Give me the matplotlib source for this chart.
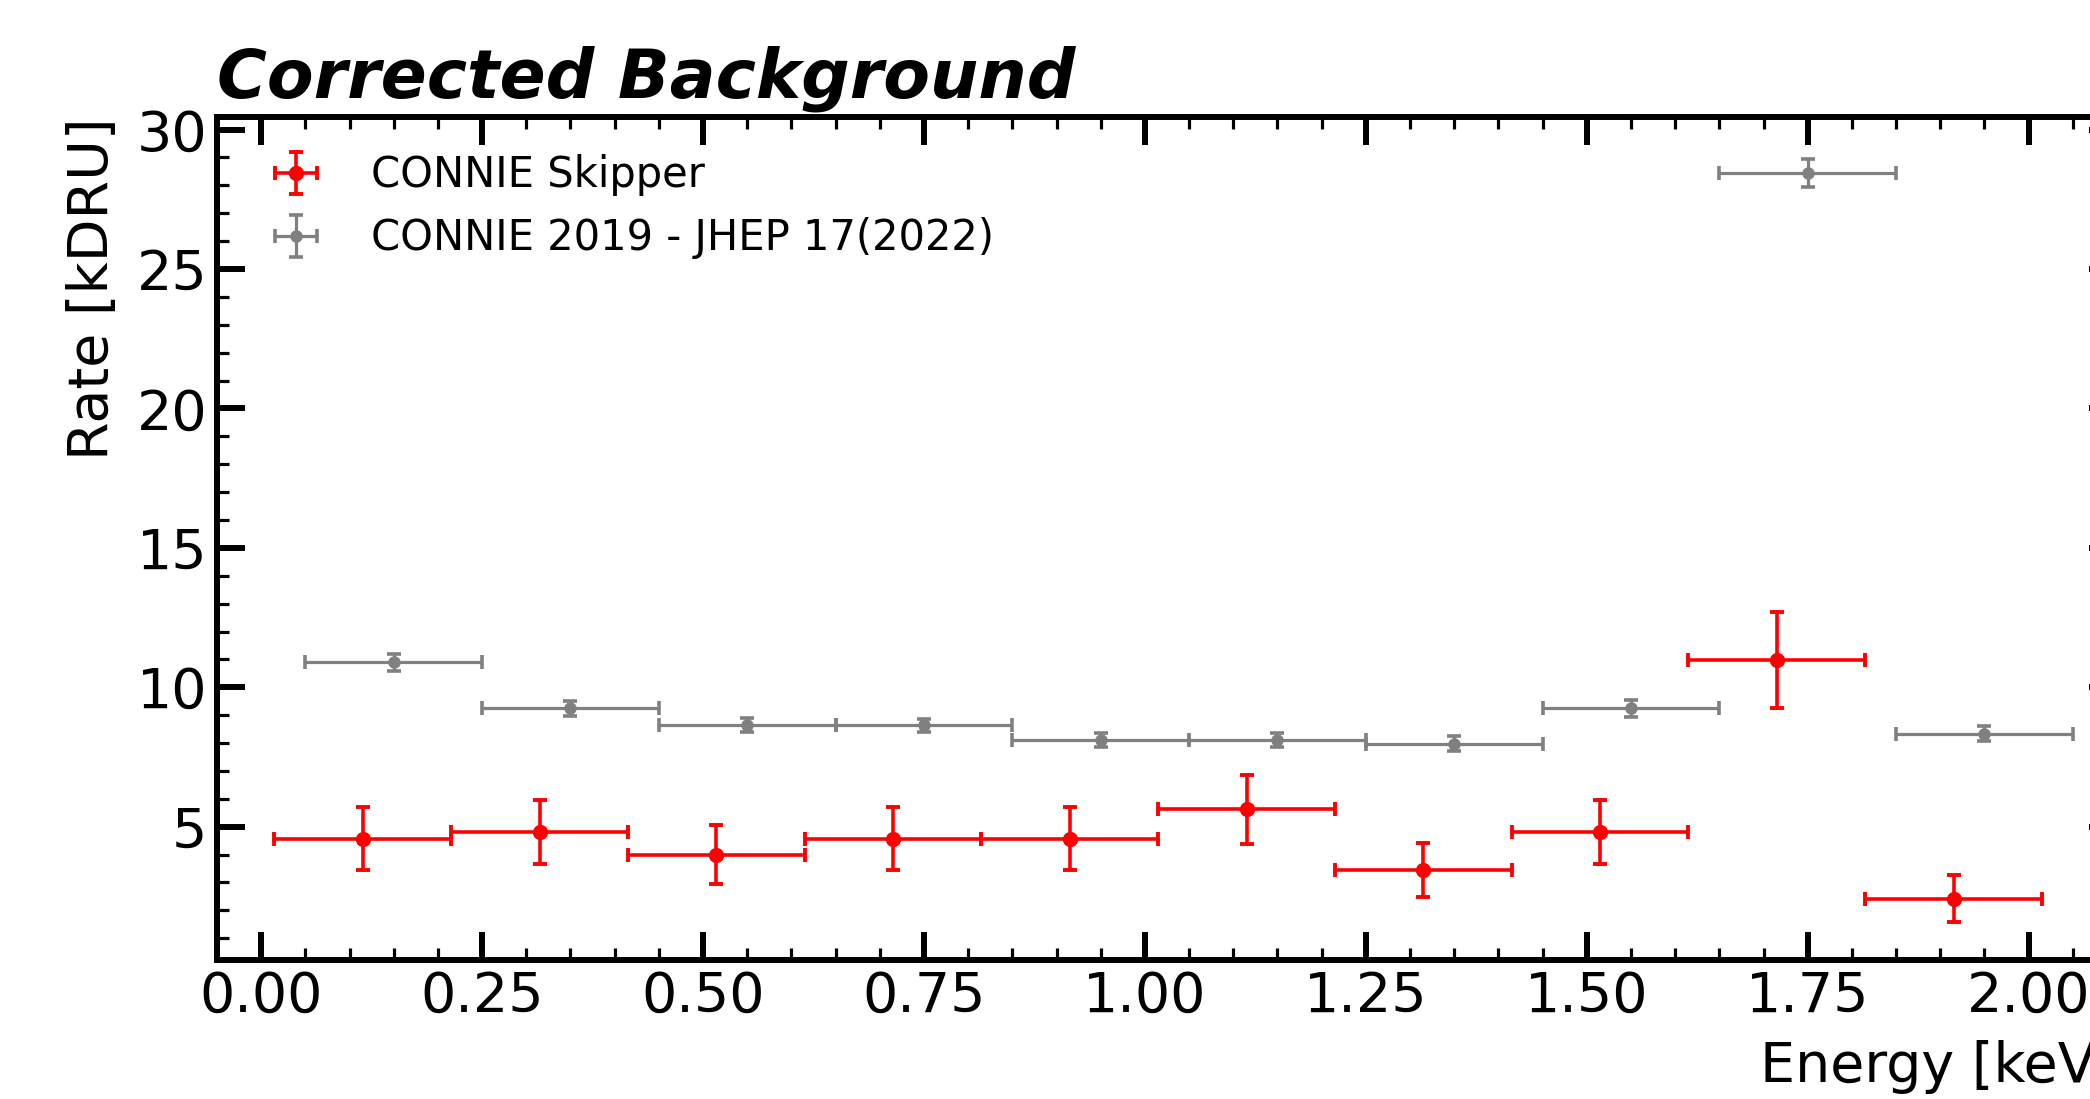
import matplotlib
matplotlib.use("Agg")
import matplotlib.pyplot as plt
from matplotlib.ticker import MultipleLocator, FormatStrFormatter

# Data
skipper_x = [0.115, 0.315, 0.515, 0.715, 0.915, 1.115, 1.315, 1.515, 1.715, 1.915]
skipper_y = [4.57, 4.82, 4.00, 4.57, 4.57, 5.62, 3.46, 4.82, 10.97, 2.42]
skipper_yerr = [1.13, 1.15, 1.06, 1.13, 1.13, 1.24, 0.97, 1.15, 1.72, 0.84]
skipper_xerr = [0.1] * 10

c2019_x = [0.15, 0.35, 0.55, 0.75, 0.95, 1.15, 1.35, 1.55, 1.75, 1.95]
c2019_y = [10.9, 9.24, 8.66, 8.63, 8.12, 8.12, 7.98, 9.24, 28.45, 8.34]
c2019_yerr = [0.3, 0.28, 0.25, 0.25, 0.25, 0.25, 0.28, 0.3, 0.5, 0.28]
c2019_xerr = [0.1] * 10

labels = ["CONNIE Skipper", "CONNIE 2019 - JHEP 17(2022)"]

fig = plt.figure(figsize=(20.9, 10.99), dpi=100)
ax = fig.add_axes([217/2090, 1 - 960/1099, (2117 - 217)/2090, (960 - 117)/1099])

ax.errorbar(skipper_x, skipper_y, xerr=skipper_xerr, yerr=skipper_yerr,
            fmt='o', color='red', markersize=10, elinewidth=2.6,
            capsize=5, capthick=2.8, label=labels[0], zorder=3)
ax.errorbar(c2019_x, c2019_y, xerr=c2019_xerr, yerr=c2019_yerr,
            fmt='o', color='#808080', markersize=8, elinewidth=2.3,
            capsize=5, capthick=2.6, label=labels[1], zorder=2)

ax.set_xlim(-0.05, 2.1)
ax.set_ylim(0.22, 30.45)

ax.xaxis.set_major_locator(MultipleLocator(0.25))
ax.xaxis.set_minor_locator(MultipleLocator(0.05))
ax.yaxis.set_major_locator(MultipleLocator(5))
ax.yaxis.set_minor_locator(MultipleLocator(1))
ax.xaxis.set_major_formatter(FormatStrFormatter('%.2f'))

ax.tick_params(which='both', direction='in', top=True, right=True)
ax.tick_params(which='major', length=20, width=4.3, labelsize=40, pad=7)
ax.tick_params(which='minor', length=8.5, width=2.3)
for s in ax.spines.values():
    s.set_linewidth(4.3)

ax.set_xlabel("Energy [keV]", fontsize=40, loc='right', labelpad=12)
ax.set_ylabel("Rate [kDRU]", fontsize=40, loc='top', labelpad=12)
ax.set_title("Corrected Background", loc='left', fontsize=49,
             fontweight='bold', fontstyle='italic', pad=14)

ax.legend(loc='upper left', frameon=False, fontsize=30)

fig.savefig("out.png", dpi=100)
